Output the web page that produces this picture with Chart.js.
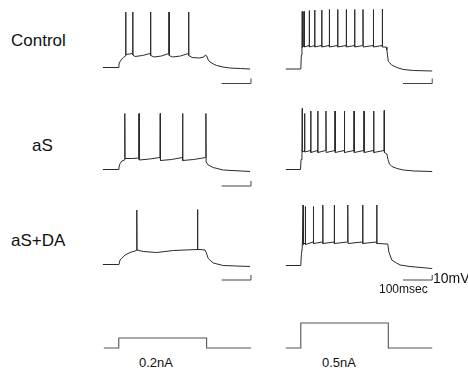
<!DOCTYPE html>
<html>
<head>
<meta charset="utf-8">
<script src="https://cdn.jsdelivr.net/npm/chart.js@4/dist/chart.umd.min.js"></script>
<style>
  body { margin: 0; background: #fff; }
  #fig { position: relative; width: 468px; height: 368px; overflow: hidden;
         font-family: "Liberation Sans", Arial, sans-serif; color: #111; }
  #fig canvas { position: absolute; }
  .lbl { position: absolute; white-space: nowrap; line-height: 1; }
</style>
</head>
<body>
<div id="fig">
  <canvas id="ctlWeak" width="161" height="85" style="left:97px;top:5px"></canvas>
  <canvas id="ctlStrong" width="161" height="85" style="left:280px;top:5px"></canvas>
  <canvas id="asWeak" width="161" height="85" style="left:97px;top:107px"></canvas>
  <canvas id="asStrong" width="161" height="85" style="left:280px;top:107px"></canvas>
  <canvas id="daWeak" width="161" height="85" style="left:97px;top:202px"></canvas>
  <canvas id="daStrong" width="161" height="85" style="left:280px;top:202px"></canvas>
  <canvas id="curWeak" width="161" height="35" style="left:98px;top:318px"></canvas>
  <canvas id="curStrong" width="161" height="35" style="left:280px;top:318px"></canvas>

  <div class="lbl" style="left:11px;top:32px;font-size:17px">Control</div>
  <div class="lbl" style="left:32px;top:137px;font-size:17px">aS</div>
  <div class="lbl" style="left:11px;top:232px;font-size:17px">aS+DA</div>
  <div class="lbl" style="left:433px;top:271px;font-size:14px">10mV</div>
  <div class="lbl" style="left:379px;top:283px;font-size:12px">100msec</div>
  <div class="lbl" style="left:139px;top:356px;font-size:13px">0.2nA</div>
  <div class="lbl" style="left:322px;top:356px;font-size:13px">0.5nA</div>
</div>

<script>
// membrane potential traces, [ms, mV]
var ctlWeak = [[0,-65],[52,-65],[55,-58],[59,-53],[65,-48],[70,-45],[77.2,-42],[78,46],[78.8,-39],
  [101.2,-37],[102,46],[102.8,-40],[110,-43],[135,-41],[162.2,-37],[163,46],[163.8,-41],[175,-44],
  [200,-42],[225.2,-37],[226,46],[226.8,-41],[238,-44],[265,-42],[292.2,-37],[293,46],[293.8,-41],
  [305,-45],[330,-46],[345,-44],[350,-40],[355,-42],[360,-50],[366,-54],[378,-58],[389,-61],
  [410,-64],[434,-66],[470,-67],[503,-68]];

var ctlStrong = [[0,-68],[51,-68],[53,-40],[55,-28],[56,47],[56.8,-25],[61.2,-22],[62,47],[62.8,-24],
  [79.2,-21],[80,49],[80.8,-24],[97.7,-21],[98.5,50],[99.3,-24],[121.7,-21],[122.5,50],[123.3,-24],
  [147.7,-21],[148.5,51],[149.3,-24],[176.2,-21],[177,51],[177.8,-24],[205.7,-21],[206.5,51],[207.3,-24],
  [234.2,-21],[235,51],[235.8,-24],[262.7,-21],[263.5,51],[264.3,-24],[298.2,-21],[299,51],[299.8,-24],
  [328.7,-21],[329.5,52],[330.3,-24],[343,-24],[345,-30],[350,-53],[362,-60],[379,-65],[401,-69],
  [436,-71],[500,-72]];

var asWeak = [[0,-65],[52,-65],[55,-60],[59,-53],[65,-48],[74.2,-46],[75,47],[75.8,-43],[100,-43],
  [122.7,-42],[123.5,47],[124.3,-46],[160,-44],[195.2,-41],[196,47],[196.8,-47],[235,-45],[271.7,-41],
  [272.5,47],[273.3,-47],[310,-45],[351.2,-41],[352,47],[352.8,-50],[360,-56],[377,-61],[411,-66],
  [503,-69]];

var asStrong = [[0,-65],[50,-65],[52,-45],[55,-33],[56,57],[56.8,-30],[63.2,-28],[64,47],[64.8,-30],
  [84.2,-27],[85,52],[85.8,-31],[108.2,-27],[109,52],[109.8,-31],[136.2,-27],[137,52],[137.8,-31],
  [167.2,-27],[168,52],[168.8,-31],[199.2,-27],[200,52],[200.8,-31],[232.2,-27],[233,52],[233.8,-31],
  [266.2,-27],[267,52],[267.8,-31],[299.2,-27],[300,52],[300.8,-31],[335.2,-27],[336,53],[336.8,-31],
  [345,-34],[349,-45],[354,-54],[362,-59],[380,-63],[401,-66],[440,-68],[500,-69]];

var daWeak = [[0,-65],[55,-65],[58.6,-56],[64,-53],[76,-46],[93,-41],[115.2,-37],[116,44],[116.8,-36],
  [138,-39],[184,-41],[241,-37],[322.7,-35],[323.5,45],[324.3,-35],[332,-35],[349,-36],[355,-44],
  [360,-53],[377,-62],[411,-67],[503,-69]];

var daStrong = [[0,-67],[51,-67],[53,-45],[56,-32],[59,54],[59.8,-25],[65.7,-22],[66.5,51],[67.3,-25],
  [93.2,-20],[94,51],[94.8,-23],[125.2,-20],[126,54],[126.8,-23],[164.7,-20],[165.5,54],[166.3,-23],
  [210.7,-20],[211.5,54],[212.3,-23],[261.7,-20],[262.5,54],[263.3,-23],[309.7,-20],[310.5,54],
  [311.3,-23],[348,-24],[352,-40],[362,-56],[378,-62],[390,-66],[424,-69],[480,-72],[500,-73]];

// injected current, [ms, nA]
var curWeak = [[0,0],[51,0],[51,0.2],[351,0.2],[351,0],[503,0]];
var curStrong = [[0,0],[51,0],[51,0.5],[350,0.5],[350,0],[500,0]];

// scale bars: 100 ms / 10 mV
var barLeft = [[406,-97],[506,-97],[506,-87]];
var barRight = [[400,-97],[500,-97],[500,-87]];
var barLeftAs = [[406,-98],[506,-98],[506,-88]];
var barLeftDa = [[406,-96],[506,-96],[506,-86]];
var barRightDa = [[400,-96],[500,-96],[500,-86]];

function drawPanel(id, series, yMin, yMax) {
  var ctx = document.getElementById(id).getContext('2d');
  var datasets = series.map(function (s) {
    return {
      data: s.data,
      borderColor: s.color,
      borderWidth: s.width,
      pointRadius: 0,
      tension: 0,
      fill: false,
      clip: false
    };
  });
  return new Chart(ctx, {
    type: 'line',
    data: { datasets: datasets },
    options: {
      responsive: false,
      animation: false,
      events: [],
      layout: { autoPadding: false, padding: 0 },
      plugins: { legend: { display: false }, tooltip: { enabled: false } },
      scales: {
        x: { type: 'linear', min: -20, max: 530, display: false },
        y: { type: 'linear', min: yMin, max: yMax, display: false }
      }
    }
  });
}

var traceColor = '#2a2a2a', barColor = '#444';
function trace(d) { return { data: d, color: traceColor, width: 1 }; }
function bar(d) { return { data: d, color: barColor, width: 1 }; }

drawPanel('ctlWeak', [trace(ctlWeak), bar(barLeft)], -110, 60);
drawPanel('ctlStrong', [trace(ctlStrong), bar(barRight)], -110, 60);
drawPanel('asWeak', [trace(asWeak), bar(barLeftAs)], -110, 60);
drawPanel('asStrong', [trace(asStrong)], -110, 60);
drawPanel('daWeak', [trace(daWeak), bar(barLeftDa)], -110, 60);
drawPanel('daStrong', [trace(daStrong), bar(barRightDa)], -110, 60);
drawPanel('curWeak', [{ data: curWeak, color: '#555', width: 1.1 }], -0.1, 0.6);
drawPanel('curStrong', [{ data: curStrong, color: '#555', width: 1.1 }], -0.1, 0.6);
</script>
</body>
</html>
